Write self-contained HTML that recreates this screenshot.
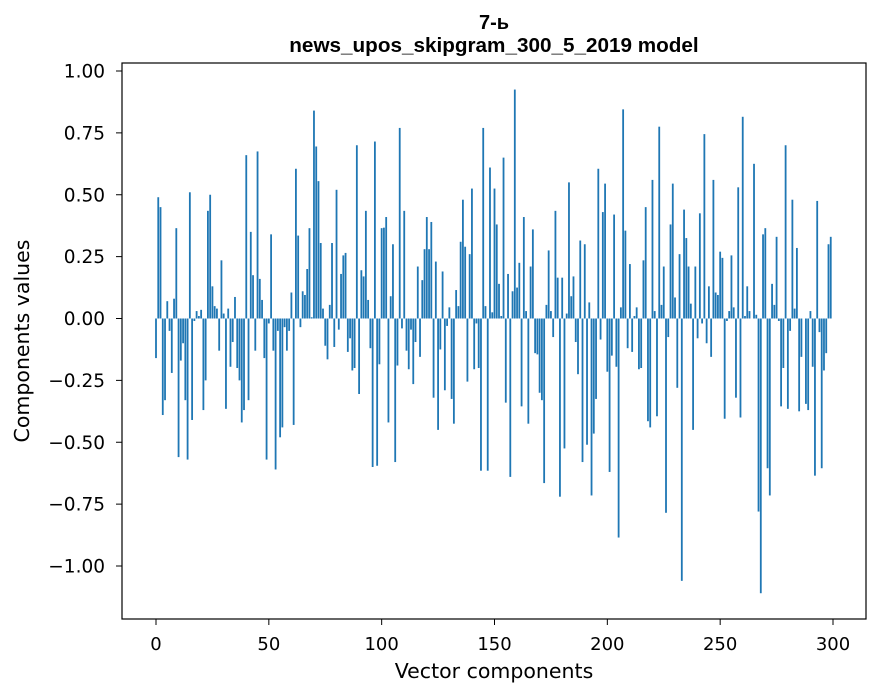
<!DOCTYPE html>
<html><head><meta charset="utf-8"><style>
html,body{margin:0;padding:0;background:#fff;}
svg{display:block;font-family:"DejaVu Sans",sans-serif;}
.ttl{font-family:"Liberation Sans",sans-serif;font-weight:bold;}
</style></head><body>
<svg id="chart" width="880" height="696" viewBox="0 0 880 696">
<text class="ttl" x="494" y="29" text-anchor="middle" font-size="20">7-ь</text>
<text class="ttl" x="494" y="52" text-anchor="middle" font-size="20.7">news_upos_skipgram_300_5_2019 model</text>
<g id="bars"></g>
<g id="yticks"></g>
<g id="xticks"></g>
<rect x="122" y="63" width="744" height="556" fill="none" stroke="#000" stroke-width="1.2"/>
<text x="494" y="678" text-anchor="middle" font-size="20.5">Vector components</text>
<text x="0" y="0" transform="translate(29,341) rotate(-90)" text-anchor="middle" font-size="20.5">Components values</text>
</svg>
<script>
const componentValues = [
-0.16,0.49,0.45,-0.39,-0.33,0.07,-0.05,-0.22,0.08,0.365,
-0.56,-0.17,-0.10,-0.33,-0.57,0.51,-0.41,-0.01,0.03,0.01,
0.035,-0.37,-0.25,0.435,0.50,0.13,0.05,0.04,-0.13,0.235,
0.02,-0.365,0.04,-0.195,-0.095,0.087,-0.2,-0.25,-0.42,-0.37,
0.66,-0.33,0.35,0.175,-0.13,0.675,0.16,0.075,-0.16,-0.57,
-0.02,0.34,-0.13,-0.61,-0.05,-0.48,-0.44,-0.035,-0.13,-0.05,
0.105,-0.43,0.605,0.335,-0.035,0.11,0.095,0.20,0.365,0.005,
0.84,0.695,0.555,0.305,0.04,-0.11,-0.165,0.055,0.305,-0.115,
0.52,-0.045,0.18,0.255,0.265,-0.135,-0.08,-0.21,-0.2,0.70,
-0.305,0.195,0.17,0.435,0.075,-0.12,-0.6,0.715,-0.595,-0.185,
0.365,0.367,0.41,-0.42,0.09,0.30,-0.58,-0.19,0.77,-0.04,
0.435,-0.13,-0.205,-0.045,-0.265,-0.095,0.21,-0.155,0.155,0.28,
0.41,0.28,0.39,-0.32,0.23,-0.45,-0.125,0.19,-0.29,-0.03,
0.045,-0.325,-0.425,0.115,0.05,0.31,0.48,0.29,-0.255,0.26,
0.525,-0.205,-0.02,-0.2,-0.615,0.77,0.05,-0.615,0.61,0.025,
0.525,0.38,0.14,0.01,0.65,-0.34,0.18,-0.64,0.11,0.925,
0.125,0.225,-0.355,0.41,0.03,-0.425,0.21,0.36,-0.14,-0.145,
-0.3,-0.33,-0.665,0.055,0.275,0.03,-0.075,0.435,0.165,-0.72,
0.165,-0.525,0.02,0.55,0.09,0.17,-0.095,-0.225,0.315,-0.58,
0.30,-0.51,0.065,-0.715,-0.465,-0.325,0.605,-0.085,0.43,0.545,
-0.215,-0.62,-0.15,0.42,-0.195,-0.885,0.045,0.845,0.355,-0.12,
0.22,-0.135,0.01,0.045,-0.205,-0.2,0.235,0.45,-0.415,-0.44,
0.56,0.03,-0.395,0.775,0.055,0.21,-0.785,-0.075,0.38,0.545,
0.085,-0.28,0.26,-1.06,0.44,0.325,0.21,0.06,-0.45,0.21,
-0.08,0.425,-0.02,0.745,-0.1,0.13,-0.155,0.56,0.105,0.095,
0.27,0.245,-0.405,-0.01,0.03,0.255,0.045,-0.32,0.53,-0.4,
0.815,0.01,0.13,0.03,0.0,0.625,0.015,-0.78,-1.11,0.34,
0.365,-0.605,-0.715,0.14,0.055,0.33,-0.01,-0.355,-0.2,0.70,
-0.365,-0.05,0.48,0.04,0.285,-0.375,-0.155,0.0,-0.345,-0.37,
0.03,-0.195,-0.635,0.475,-0.055,-0.605,-0.21,-0.14,0.30,0.33
];
const yTickValues = [-1.0,-0.75,-0.5,-0.25,0,0.25,0.5,0.75,1.0];
const yTickLabels = ["\u22121.00","\u22120.75","\u22120.50","\u22120.25","0.00","0.25","0.50","0.75","1.00"];
const xTickValues = [0,50,100,150,200,250,300];
const xTickLabels = ["0","50","100","150","200","250","300"];

const NS = "http://www.w3.org/2000/svg";
function xScale(i){ return 156 + i * (677/300); }
function yScale(v){ return 318.5 - v * 247.5; }

const barsG = document.getElementById('bars');
componentValues.forEach(function(v, i){
  const r = document.createElementNS(NS, 'rect');
  const w = 0.8 * (677/300);
  const y0 = yScale(0), y1 = yScale(v);
  r.setAttribute('x', xScale(i) - w/2);
  r.setAttribute('y', Math.min(y0, y1));
  r.setAttribute('width', w);
  r.setAttribute('height', Math.max(Math.abs(y1 - y0), 0.01));
  r.setAttribute('fill', '#1f77b4');
  
  
  barsG.appendChild(r);
});

const yG = document.getElementById('yticks');
yTickValues.forEach(function(v, k){
  const y = yScale(v);
  const l = document.createElementNS(NS, 'line');
  l.setAttribute('x1', 116); l.setAttribute('x2', 122);
  l.setAttribute('y1', y); l.setAttribute('y2', y);
  l.setAttribute('stroke', '#000');
  
  
  yG.appendChild(l);
  const t = document.createElementNS(NS, 'text');
  t.setAttribute('x', 105); t.setAttribute('y', y + 6.5);
  t.setAttribute('text-anchor', 'end'); t.setAttribute('font-size', '18.5');
  t.textContent = yTickLabels[k];
  
  
  yG.appendChild(t);
});

const xG = document.getElementById('xticks');
xTickValues.forEach(function(v, k){
  const x = xScale(v);
  const l = document.createElementNS(NS, 'line');
  l.setAttribute('x1', x); l.setAttribute('x2', x);
  l.setAttribute('y1', 619); l.setAttribute('y2', 625);
  l.setAttribute('stroke', '#000');
  
  
  xG.appendChild(l);
  const t = document.createElementNS(NS, 'text');
  t.setAttribute('x', x); t.setAttribute('y', 650);
  t.setAttribute('text-anchor', 'middle'); t.setAttribute('font-size', '18');
  t.textContent = xTickLabels[k];
  
  
  xG.appendChild(t);
});
</script>
</body></html>
